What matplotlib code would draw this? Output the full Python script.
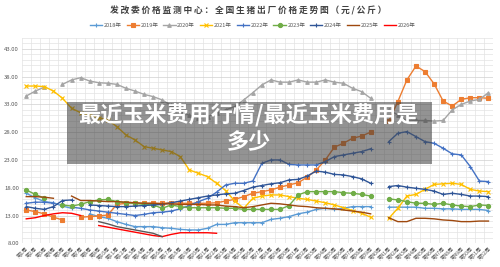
import matplotlib
matplotlib.use("Agg")
import matplotlib.pyplot as plt
from matplotlib.patches import Rectangle
import numpy as np

plt.rcParams['font.family'] = ['Noto Sans CJK SC', 'DejaVu Sans']

N = None
weeks = ["第%d周" % i for i in range(1, 53)]
years = ["2018年", "2019年", "2020年", "2021年", "2022年", "2023年", "2024年", "2025年", "2026年"]

y2018 = [17.0, 16.2, 15.5, 15.3, 14.7, 14.3, N, 13.3, 12.8, 12.5, 11.9, 11.4, 11.0, 11.0, 11.0, 10.8, 10.7, 10.5,
         10.4, 10.4, 10.7, 11.4, 11.4, 11.7, 11.7, 11.7, 11.7, 12.3, 12.5, 12.8, 13.3, 13.6, 14.1, 14.3, 14.1, 14.3,
         14.6, 14.6, 14.6, N, 14.5, 14.5, 14.5, 14.5, 14.3, 14.3, 14.2, 14.2, 14.1, 14.1, 14.1, 13.9]
y2019 = [14.0, 13.7, 13.3, 12.7, 12.2, N, 12.7, 12.8, 12.9, 13.1, 15.0, 15.2, 15.2, 15.2, 15.2, 15.2, 15.3, 15.2,
         15.2, 15.2, 15.2, 15.3, 15.6, 15.9, 16.4, 17.0, 17.3, 17.6, 18.1, 18.5, 18.9, 19.9, 21.2, 23.0, 25.3, 26.0,
         26.9, 27.3, 28.0, N, 30.0, 33.5, 37.4, 39.9, 38.9, 36.7, 33.6, 32.7, 33.9, 34.2, 34.2, 34.1]
y2020 = [34.5, 35.4, 36.1, N, 36.6, 37.4, 37.8, 37.2, 36.9, 36.8, 36.6, 35.9, 35.4, 34.8, 34.4, 33.8, 32.8, 31.8,
         31.0, 30.5, 30.8, 31.4, 32.0, 32.6, 33.8, 35.1, 36.5, 37.4, 37.0, 37.0, 37.4, 37.0, 37.0, 37.4, 37.0, 36.8,
         35.9, 35.3, 34.1, N, 32.0, 31.1, 30.0, 30.1, 30.1, 30.0, 30.1, 32.0, 33.0, 33.6, 33.9, 35.1]
y2021 = [36.3, 36.3, 36.2, 35.4, 34.1, 32.3, 31.5, 31.0, 30.6, 30.2, 29.0, 27.5, 26.6, 25.4, 25.1, 24.8, 24.5, 23.6,
         21.2, 20.6, 20.0, 18.8, 17.5, 15.6, 14.3, 16.1, 16.5, 16.7, 16.7, 16.4, 16.1, 15.9, 15.6, 15.3, 14.9, 14.4,
         13.9, 13.4, 12.7, N, 12.5, 14.3, 16.5, 16.8, 17.7, 18.6, 18.7, 18.8, 18.6, 17.7, 17.4, 17.3]
y2022 = [15.2, 15.4, 15.4, 15.2, N, 14.5, 14.3, 14.0, 13.8, 13.6, 13.4, 13.2, 13.0, 13.2, 13.5, 13.6, 13.8, 14.2,
         14.8, 15.5, 16.1, 17.2, 18.5, 18.8, 18.8, 19.2, 22.4, 23.0, 23.0, 22.2, 22.1, 22.1, 22.1, 22.7, 23.6, 23.9,
         24.2, 24.5, 25.0, N, 26.3, 27.8, 28.1, 27.2, 26.3, 26.0, 25.1, 24.1, 23.9, 21.8, 19.2, 19.1]
y2023 = [17.6, 16.8, 16.1, N, 14.9, 14.7, 15.0, 15.5, 15.8, 15.9, 15.5, 15.3, 15.2, 15.0, 14.9, 14.3, 14.9, 14.6,
         14.4, 14.4, 14.4, 14.4, 14.3, 14.3, 14.1, 14.1, 14.1, 14.1, 14.1, 14.8, 16.7, 17.3, 17.3, 17.3, 17.3, 17.1,
         17.0, 16.8, 16.5, N, 16.0, 15.8, 15.5, 15.2, 15.2, 15.0, 15.2, 14.9, 14.7, 14.6, 14.9, 14.8]
y2024 = [14.6, 14.3, 14.1, 14.6, 15.7, 15.8, N, 14.9, 14.8, 14.7, 14.6, 14.6, 14.7, 14.8, 14.9, 15.0, 15.3, 15.6,
         15.9, 16.2, 16.5, 16.7, 16.9, 17.0, 17.5, 18.1, 18.4, 18.7, 18.9, 19.4, 19.5, 20.1, 21.0, 20.8, 20.4, 20.3,
         20.0, 19.6, 18.8, N, 18.2, 18.4, 18.1, 17.9, 17.7, 17.4, 16.8, 17.0, 16.8, 16.5, 16.5, 16.4]
y2025 = [16.4, 16.4, 16.3, 16.1, N, 16.5, 15.7, 15.7, 15.6, 15.5, 15.5, 15.4, 15.3, 15.2, 15.2, 15.1, 15.1, 15.0,
         15.0, 15.0, 14.9, 14.9, 14.7, 14.6, 14.4, 14.6, 14.9, 15.2, 15.1, 14.9, 14.7, 14.6, 14.4, 14.3, 14.2, 14.0,
         13.8, 13.6, 13.3, N, 12.6, 11.9, 11.9, 12.5, 12.5, 12.4, 12.2, 12.1, 11.9, 11.9, 12.0, 12.0]
y2026 = [12.4, 12.6, 13.0, 13.3, 13.5, 13.4, 13.0, N, 11.2, 10.9, 10.6, 10.3, 10.0, 9.7, 9.4, 9.2, 9.6, 9.9,
         9.9, 9.9, 9.9, 9.8] + [N] * 30
# dark grey segment drawn over the 2026 line (no legend entry in the original)
y_dark = [N] * 8 + [11.9, 11.5, 11.0, 10.7, 10.4, 10.1, 9.8, 9.2] + [N] * 36

series = [y2018, y2019, y2020, y2021, y2022, y2023, y2024, y2025, y2026]
colors = ['#5B9BD5', '#ED7D31', '#A5A5A5', '#FFC000', '#4472C4', '#70AD47', '#2F5597', '#9E480E', '#FF0000']
markers = ['+', 's', '^', 'x', '+', 'o', '+', None, None]
msizes = [3.0, 2.8, 2.6, 2.8, 3.0, 3.0, 3.0, 0, 0]

fig = plt.figure(figsize=(5.0, 2.67), dpi=100)
ax = fig.add_axes([0.0434, 0.0888, 0.9426, 0.770])

x = np.arange(52)
handles = []
for ys, c, m, ms, lab in zip(series, colors, markers, msizes, years):
    arr = np.array([np.nan if v is None else v for v in ys], dtype=float)
    h, = ax.plot(x, arr, color=c, lw=1.0, marker=m, ms=ms, mew=0.8, label=lab, zorder=3)
    handles.append(h)
arr = np.array([np.nan if v is None else v for v in y_dark], dtype=float)
ax.plot(x, arr, color='#595959', lw=1.0, zorder=3.5)

ax.set_xlim(-0.5, 51.5)
ax.set_ylim(8, 45)
ax.set_yticks(np.arange(8, 45, 5))
ax.set_yticklabels(["%.2f" % v for v in np.arange(8, 45, 5)], fontsize=4.3, color='#595959')
ax.set_yticks(np.arange(8, 46, 1), minor=True)
ax.set_xticks(x)
ax.set_xticklabels(weeks, rotation=45, ha='right', fontsize=3.8, color='#595959', rotation_mode='anchor')
ax.set_xticks(np.arange(-0.5, 52, 1), minor=True)
ax.tick_params(axis='both', which='both', length=0, pad=2)
ax.grid(which='minor', axis='both', color='#E3E3E3', lw=0.5, zorder=0)
ax.grid(which='major', axis='y', color='#D0D0D0', lw=0.5, zorder=0)
for s in ax.spines.values():
    s.set_visible(False)

title = "发改委价格监测中心：全国生猪出厂价格走势图（元/公斤）"
fig.text(0.497, 0.958, "\u2009".join(title), ha='center', va='center',
         fontsize=6.3, fontweight='bold', color='#404040')
fig.legend(handles=handles, labels=years, loc='center', bbox_to_anchor=(0.505, 0.905), ncol=9, frameon=False,
           fontsize=4.0, handlelength=2.2, columnspacing=0.9, handletextpad=0.3, labelcolor='#595959')

# overlay banner
fig.patches.append(Rectangle((67 / 500, 1 - 164 / 267), (432 - 67) / 500, (164 - 102) / 267,
                             transform=fig.transFigure, facecolor='#3a3a3a', alpha=0.55, edgecolor='none', zorder=10))
fig.text(0.497, 1 - 116 / 267, "最近玉米费用行情/最近玉米费用是", ha='center', va='center', fontsize=15.9,
         fontweight='bold', color='white', zorder=11)
fig.text(0.497, 1 - 143 / 267, "多少", ha='center', va='center', fontsize=15.9, fontweight='bold', color='white',
         zorder=11)

fig.savefig("out.png", dpi=100)
